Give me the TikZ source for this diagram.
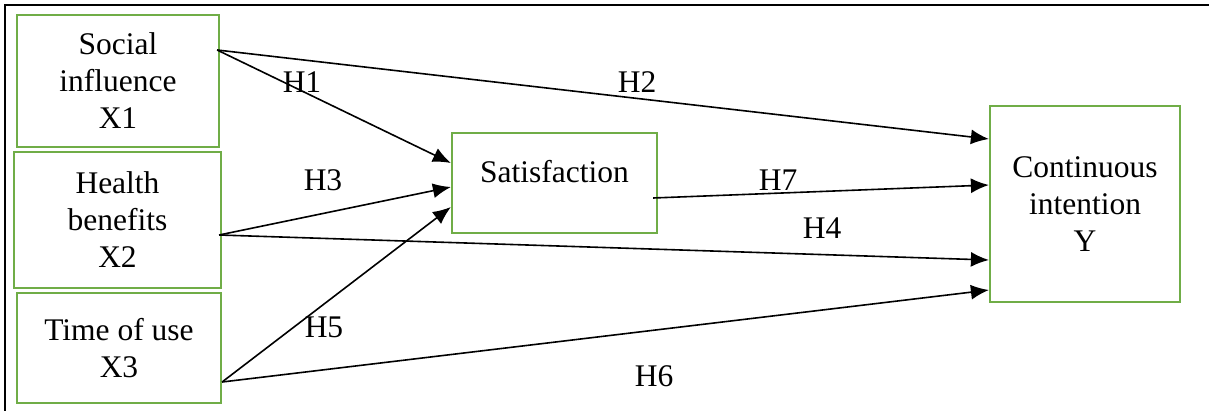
\documentclass[tikz,border=0pt]{standalone}
\usepackage{fontspec}
\setmainfont{Liberation Serif}
\usetikzlibrary{arrows.meta}
\definecolor{boxGreen}{RGB}{112,173,71}

\begin{document}
\begin{tikzpicture}[x=0.5pt,y=-0.5pt,>={Latex[length=9pt,width=7.5pt]},
  font={\fontsize{15.75pt}{18.5pt}\selectfont},
  varbox/.style={draw=boxGreen,line width=1.1pt,align=center,inner sep=0pt},
  link/.style={->,line width=0.8pt}]
  \useasboundingbox (0,0) rectangle (1209,411);
  \draw[line width=1pt] (5,411) -- (5,5) -- (1209,5);
  % constructs
  \node[varbox,minimum width=101pt,minimum height=66pt] (x1) at (118,81) {Social\\influence\\X1};
  \node[varbox,minimum width=103.5pt,minimum height=68pt] (x2) at (117.5,220) {Health\\benefits\\X2};
  \node[varbox,minimum width=102pt,minimum height=55pt] (x3) at (119,348) {Time of use\\X3};
  \node[varbox,minimum width=102.5pt,minimum height=50pt,text height=11pt,text depth=11pt] (sat) at (554.5,183) {Satisfaction};
  \node[varbox,minimum width=95pt,minimum height=98pt] (y) at (1085,204) {Continuous\\intention\\Y};
  % hypotheses
  \draw[link] ([xshift=-1.5pt,yshift=15.5pt]x1.east) -- ([yshift=10pt]sat.west);
  \draw[link] ([xshift=-1.5pt,yshift=15.5pt]x1.east) -- ([yshift=32.5pt]y.west);
  \draw[link] ([xshift=-1.5pt,yshift=-7.5pt]x2.east) -- ([yshift=-2pt]sat.west);
  \draw[link] ([xshift=-1.5pt,yshift=-7.5pt]x2.east) -- ([yshift=-28pt]y.west);
  \draw[link] ([yshift=-17pt]x3.east) -- ([yshift=-12pt]sat.west);
  \draw[link] ([yshift=-17pt]x3.east) -- ([yshift=-43pt]y.west);
  \draw[link] ([xshift=-2.5pt,yshift=-7.5pt]sat.east) -- ([yshift=9.5pt]y.west);
  \foreach \n/\x/\y in {1/302/82,2/637/82,3/323/180,4/822/228,5/324/327,6/654/376,7/778/180}
    \node (h\n) at (\x,\y) {H\n};
\end{tikzpicture}
\end{document}
